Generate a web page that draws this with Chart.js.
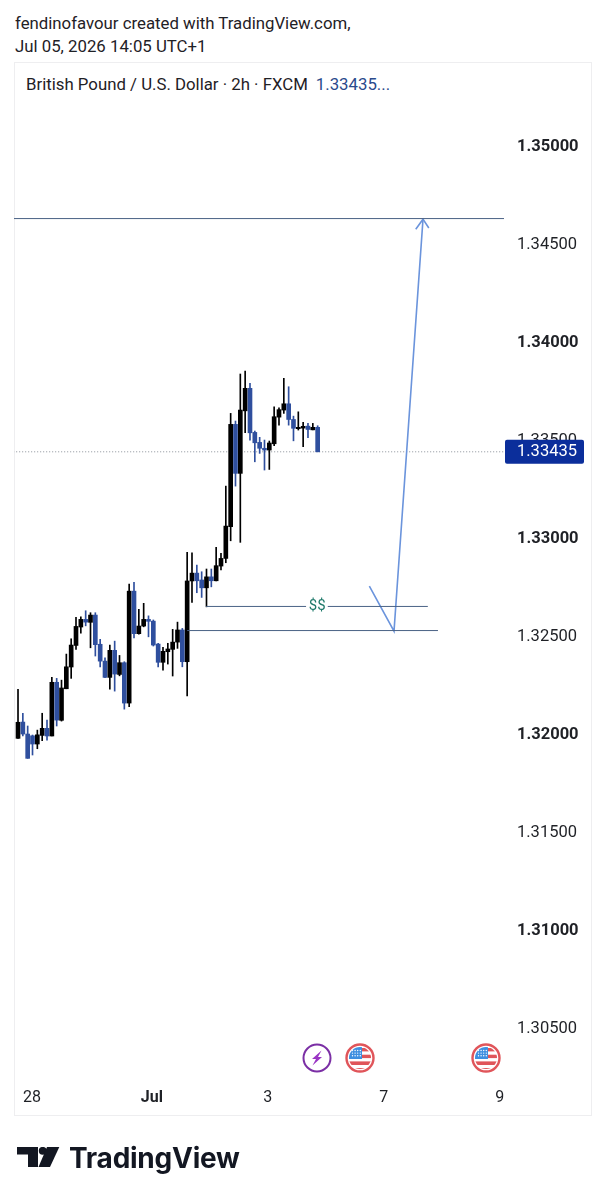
<!DOCTYPE html>
<html>
<head>
<meta charset="utf-8">
<title>GBPUSD 2h</title>
<script src="https://cdn.jsdelivr.net/npm/chart.js@4/dist/chart.umd.js"></script>
<style>
  html, body { margin: 0; padding: 0; background: #fff; }
  body { width: 605px; height: 1200px; position: relative; overflow: hidden; font-family: Roboto, sans-serif; color: #1f2126; }
  .line { position: absolute; left: 15px; font-size: 16.8px; line-height: 20px; white-space: nowrap; }
  .card { position: absolute; left: 14px; top: 62px; width: 576px; height: 1052px; border: 1px solid #eeeef0; }
  .legend { position: absolute; left: 26px; top: 74px; font-size: 16.8px; line-height: 20px; white-space: nowrap; }
  .legend span { color: #2a4a8c; margin-left: 8px; }
  canvas { position: absolute; left: 0; top: 0; }
  svg.icon { position: absolute; }
  .brand { position: absolute; left: 69px; top: 1140px; font-family: Inter, sans-serif; font-weight: 700; font-size: 28px; letter-spacing: -0.25px; line-height: 36px; color: #131722; }
</style>
</head>
<body>
<div class="line" style="top:13px">fendinofavour created with TradingView.com,</div>
<div class="line" style="top:36px">Jul 05, 2026 14:05 UTC+1</div>
<div class="card"></div>
<div class="legend">British Pound / U.S. Dollar · 2h · FXCM<span>1.33435...</span></div>
<canvas id="chart" width="605" height="1200"></canvas>

<svg class="icon" style="left:302px;top:1043px" width="30" height="30" viewBox="0 0 30 30">
  <circle cx="15" cy="15" r="13.5" fill="#fff" stroke="#7b2fa5" stroke-width="2"/>
  <path d="M19.5 7.5 L10 16 L14 16 L10.5 22.5 L20 14 L16 14 Z" fill="#9a35c4"/>
</svg>
<svg class="icon flag" style="left:345px;top:1043px" width="30" height="30" viewBox="0 0 30 30"></svg>
<svg class="icon flag" style="left:471px;top:1043px" width="30" height="30" viewBox="0 0 30 30"></svg>

<svg class="icon" style="left:17px;top:1147px" width="44" height="22" viewBox="0 0 44 22">
  <path d="M0 0 H21 V20 H11 V7.5 H0 Z" fill="#131722"/>
  <circle cx="25.7" cy="3.8" r="3.9" fill="#131722"/>
  <path d="M30 0 H42.3 L33 20 H21.5 Z" fill="#131722"/>
</svg>
<div class="brand">TradingView</div>

<script>
  const opens = [1.31973,1.32056,1.31995,1.31986,1.31944,1.31988,1.32024,1.31985,1.32259,1.32065,1.32226,1.32337,1.32447,1.32541,1.3258,1.32565,1.32602,1.32453,1.32367,1.32284,1.32422,1.32299,1.32359,1.32153,1.32724,1.32507,1.32546,1.3258,1.32571,1.32454,1.32361,1.32415,1.32427,1.32464,1.32526,1.32364,1.32776,1.32816,1.32781,1.32741,1.32797,1.32777,1.32852,1.32891,1.33053,1.33575,1.33325,1.33644,1.33759,1.33534,1.33483,1.33453,1.33444,1.33476,1.33612,1.33648,1.3368,1.336,1.33553,1.33556,1.33566,1.33547,1.3356];
  const highs = [1.32223,1.32101,1.32036,1.3199,1.32015,1.32101,1.32066,1.32284,1.32279,1.3227,1.32403,1.32481,1.3259,1.32593,1.32624,1.32614,1.32614,1.32478,1.32384,1.32449,1.32469,1.32396,1.32364,1.3276,1.32769,1.32631,1.32662,1.32598,1.32577,1.32458,1.32437,1.32458,1.32529,1.32566,1.32534,1.32922,1.3292,1.32857,1.32823,1.32837,1.32837,1.32947,1.32917,1.3326,1.33631,1.33592,1.33832,1.33847,1.33784,1.33541,1.33509,1.33495,1.3349,1.33665,1.3366,1.3381,1.33767,1.33617,1.33639,1.33585,1.3358,1.3358,1.33568];
  const lows = [1.31973,1.31985,1.31871,1.31888,1.3192,1.31961,1.31964,1.31985,1.32036,1.32061,1.32226,1.32279,1.32427,1.32509,1.32547,1.32435,1.32393,1.32338,1.32282,1.32224,1.32214,1.32292,1.32122,1.32134,1.32486,1.32504,1.32542,1.32491,1.32444,1.32338,1.32321,1.32352,1.32291,1.32432,1.32338,1.3219,1.32667,1.32716,1.32692,1.32644,1.32746,1.32776,1.32832,1.32869,1.32981,1.3326,1.32973,1.33532,1.33495,1.33384,1.33427,1.33342,1.33345,1.33466,1.33571,1.33631,1.33571,1.33491,1.33546,1.33461,1.33507,1.33547,1.33435];
  const closes = [1.32055,1.31995,1.31871,1.31944,1.31991,1.32024,1.31985,1.32259,1.32066,1.3223,1.32338,1.32449,1.32544,1.3258,1.32566,1.32602,1.32451,1.32367,1.32284,1.32422,1.32301,1.32359,1.32153,1.32724,1.32507,1.32546,1.3258,1.3257,1.32449,1.32361,1.32417,1.32429,1.32464,1.32526,1.32364,1.32776,1.32816,1.32777,1.32741,1.32797,1.32777,1.32854,1.32891,1.33056,1.33575,1.33325,1.33648,1.33759,1.33532,1.33481,1.33453,1.33444,1.3348,1.33614,1.3365,1.3368,1.336,1.33555,1.3356,1.33565,1.33549,1.3356,1.33435];

  const tickBars = [2.9, 27.7, 51.7, 75.7, 99.7];
  const tickLabels = ["28", "Jul", "3", "7", "9"];
  const lastPrice = 1.33435;

  // drawings on the chart, as [bar, price]
  const targetLine = [[-1, 1.34625], [101, 1.34625]];
  const liquidityLeft = [[38.9, 1.32646], [59.6, 1.32646]];
  const liquidityRight = [[64.1, 1.32646], [84.8, 1.32646]];
  const supportLine = [[35, 1.32523], [86.9, 1.32523]];
  const arrowPath = [[72.7, 1.3275], [77.8, 1.3252], [83.8, 1.34622]];
  const arrowHead = [[82.3, 1.34571], [83.8, 1.34622], [85.0, 1.34577]];

  const UP = "#000000";
  const DOWN = "#2f4f9e";
  const candleColors = opens.map((o, i) => closes[i] >= o ? UP : DOWN);

  function toPoints(list) {
    return list.map(p => ({ x: p[0], y: p[1] }));
  }

  function drawingLine(list, color, width) {
    return {
      type: "line",
      data: toPoints(list),
      borderColor: color,
      borderWidth: width,
      pointRadius: 0,
      tension: 0,
      order: 1
    };
  }

  // price tag and $$ text
  const overlay = {
    id: "overlay",
    afterDraw(chart) {
      const { ctx, scales } = chart;
      const y = scales.y.getPixelForValue(lastPrice);
      ctx.save();
      ctx.fillStyle = "#0b2e9b";
      ctx.beginPath();
      ctx.roundRect(505, y - 12, 79, 24, 2);
      ctx.fill();
      ctx.fillStyle = "#ffffff";
      ctx.font = "16.5px Roboto";
      ctx.textAlign = "left";
      ctx.textBaseline = "middle";
      ctx.fillText(lastPrice.toFixed(5), 517, y + 0.5);

      ctx.fillStyle = "#1f7a6b";
      ctx.font = "15px Roboto";
      ctx.textAlign = "center";
      ctx.fillText("$$", scales.x.getPixelForValue(61.9), scales.y.getPixelForValue(1.32646));
      ctx.restore();
    }
  };

  new Chart(document.getElementById("chart").getContext("2d"), {
    type: "bar",
    data: {
      datasets: [
        {
          data: lows.map((l, i) => ({ x: i, y: [l, highs[i]] })),
          backgroundColor: candleColors,
          barThickness: 1,
          grouped: false,
          order: 3
        },
        {
          data: opens.map((o, i) => ({ x: i, y: [o, closes[i]] })),
          backgroundColor: candleColors,
          barThickness: 4,
          grouped: false,
          order: 2
        },
        {
          type: "line",
          data: toPoints([[-1, lastPrice], [101, lastPrice]]),
          borderColor: "#8a8f98",
          borderWidth: 1,
          borderDash: [1, 2],
          pointRadius: 0,
          order: 4
        },
        drawingLine(targetLine, "#4a6285", 1),
        drawingLine(liquidityLeft, "#4a6285", 1),
        drawingLine(liquidityRight, "#4a6285", 1),
        drawingLine(supportLine, "#4a6285", 1),
        drawingLine(arrowPath, "#6b94dc", 1.6),
        drawingLine(arrowHead, "#6b94dc", 1.6)
      ]
    },
    plugins: [overlay],
    options: {
      responsive: false,
      animation: false,
      layout: { padding: { left: 14, right: 14, top: 100, bottom: 85 } },
      plugins: { legend: { display: false }, tooltip: { enabled: false } },
      scales: {
        x: {
          type: "linear",
          offset: false,
          min: -0.83,
          max: 100.56,
          grid: { display: false, drawTicks: false },
          border: { display: false },
          afterBuildTicks(scale) {
            scale.ticks = tickBars.map(v => ({ value: v }));
          },
          afterFit(scale) {
            scale.height = 37;
          },
          ticks: {
            autoSkip: false,
            maxRotation: 0,
            padding: 10,
            color: "#1f2126",
            font: ctx => ({ family: "Roboto", size: 16, weight: ctx.index === 1 ? "bold" : "normal" }),
            callback: (value, i) => tickLabels[i]
          }
        },
        y: {
          position: "right",
          min: 1.3024,
          max: 1.3523,
          grid: { display: false, drawTicks: false },
          border: { display: false },
          afterFit(scale) {
            scale.width = 87;
          },
          ticks: {
            stepSize: 0.005,
            includeBounds: false,
            autoSkip: false,
            padding: 13,
            labelOffset: 1.5,
            color: "#1f2126",
            font: ctx => ({
              family: "Roboto",
              size: 16.5,
              weight: ctx.tick && Math.round(ctx.tick.value * 1000) % 10 === 0 ? "bold" : "normal"
            }),
            callback: v => v.toFixed(5)
          }
        }
      }
    }
  });

  // us flag event marks
  document.querySelectorAll("svg.flag").forEach(svg => {
    let dots = "";
    for (let r = 0; r < 3; r++) {
      for (let c = 0; c < 4; c++) {
        dots += `<circle cx="${7.5 + c * 2.6}" cy="${7.5 + r * 2.6}" r="0.7" fill="#fff"/>`;
      }
    }
    svg.innerHTML = `
      <defs><clipPath id="c${svg.style.left}"><circle cx="15" cy="15" r="11"/></clipPath></defs>
      <circle cx="15" cy="15" r="13.5" fill="#fff" stroke="#e0555a" stroke-width="2.4"/>
      <g clip-path="url(#c${svg.style.left})">
        <rect x="0" y="0" width="30" height="30" fill="#fff"/>
        <rect x="17" y="5" width="12" height="3.4" fill="#e0555a"/>
        <rect x="17" y="11.7" width="12" height="3.4" fill="#e0555a"/>
        <rect x="0" y="18.4" width="30" height="3.6" fill="#e0555a"/>
        <rect x="0" y="25" width="30" height="3.6" fill="#e0555a"/>
        <rect x="4" y="4" width="13" height="12" fill="#3f8fe0"/>
        ${dots}
      </g>`;
  });
</script>
</body>
</html>
